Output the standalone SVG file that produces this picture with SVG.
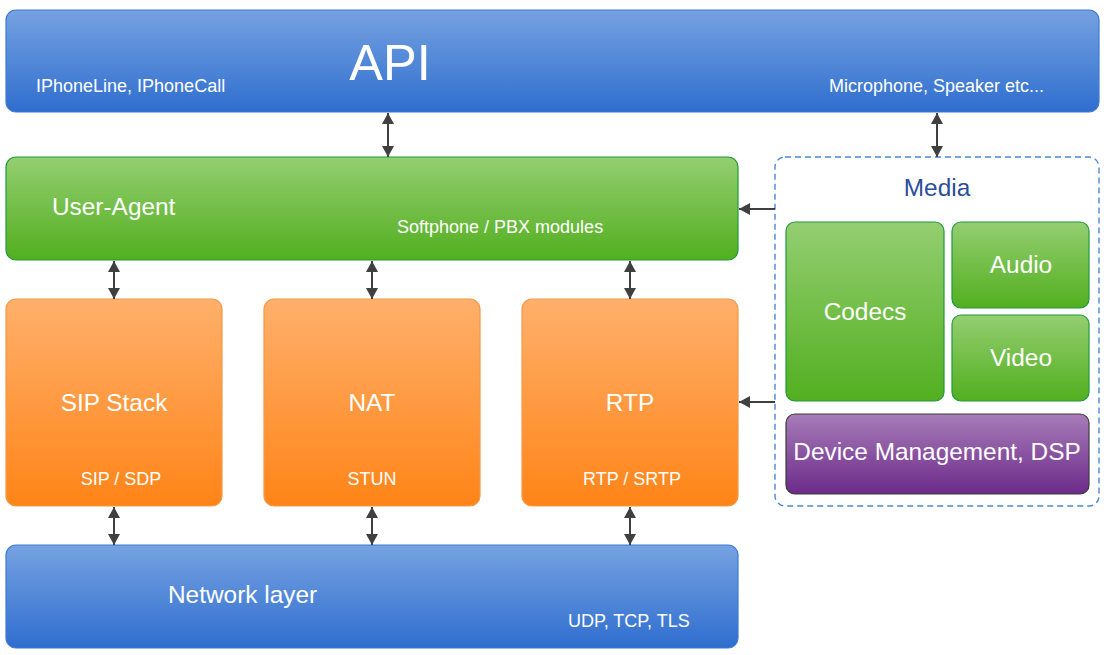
<svg xmlns="http://www.w3.org/2000/svg" width="1110" height="655" viewBox="0 0 1110 655">
<defs>
<linearGradient id="gBlue" x1="0" y1="0" x2="0" y2="1"><stop offset="0" stop-color="#76a2e1"/><stop offset="1" stop-color="#2f6ecf"/></linearGradient>
<linearGradient id="gGreen" x1="0" y1="0" x2="0" y2="1"><stop offset="0" stop-color="#94ce71"/><stop offset="1" stop-color="#52af1f"/></linearGradient>
<linearGradient id="gOrange" x1="0" y1="0" x2="0" y2="1"><stop offset="0" stop-color="#ffb06c"/><stop offset="1" stop-color="#ff8417"/></linearGradient>
<linearGradient id="gPurple" x1="0" y1="0" x2="0" y2="1"><stop offset="0" stop-color="#a77cb8"/><stop offset="1" stop-color="#6c2a8a"/></linearGradient>
<marker id="ah" viewBox="0 0 11 12" refX="11" refY="6" markerWidth="11" markerHeight="12" markerUnits="userSpaceOnUse" orient="auto-start-reverse"><path d="M0,0 L11,6 L0,12 Z" fill="#404040"/></marker>
</defs>
<style>
text{font-family:"Liberation Sans",Arial,sans-serif;fill:#fff}
.blue{fill:url(#gBlue);stroke:#3b7bd4;stroke-width:1.2}
.green{fill:url(#gGreen);stroke:#1e9a3c;stroke-width:1.2}
.orange{fill:url(#gOrange);stroke:#f2994a;stroke-width:1.2}
.purple{fill:url(#gPurple);stroke:#3a3a3a;stroke-width:1.2}
.big{font-size:24.4px}
.small{font-size:18px}
.conn{stroke:#404040;stroke-width:2;fill:none;marker-start:url(#ah);marker-end:url(#ah)}
.one{stroke:#404040;stroke-width:2;fill:none;marker-end:url(#ah)}
</style>
<g id="api">
<rect class="blue" x="6" y="10" width="1093" height="102" rx="10"/>
<text x="390" y="80" font-size="50.5" text-anchor="middle">API</text>
<text class="small" x="36" y="92">IPhoneLine, IPhoneCall</text>
<text class="small" x="829" y="92">Microphone, Speaker etc...</text>
</g>
<g id="user-agent">
<rect class="green" x="6" y="157" width="732" height="103" rx="10"/>
<text class="big" x="52" y="215">User-Agent</text>
<text class="small" x="397" y="233">Softphone / PBX modules</text>
</g>
<g id="sip-stack">
<rect class="orange" x="6" y="299" width="216" height="207" rx="10"/>
<text class="big" x="114" y="411" text-anchor="middle">SIP Stack</text>
<text class="small" x="121" y="485" text-anchor="middle">SIP / SDP</text>
</g>
<g id="nat">
<rect class="orange" x="264" y="299" width="216" height="207" rx="10"/>
<text class="big" x="372" y="411" text-anchor="middle">NAT</text>
<text class="small" x="372" y="485" text-anchor="middle">STUN</text>
</g>
<g id="rtp">
<rect class="orange" x="522" y="299" width="216" height="207" rx="10"/>
<text class="big" x="630" y="411" text-anchor="middle">RTP</text>
<text class="small" x="632" y="485" text-anchor="middle">RTP / SRTP</text>
</g>
<g id="network">
<rect class="blue" x="6" y="545" width="732" height="103" rx="10"/>
<text class="big" x="168" y="603">Network layer</text>
<text class="small" x="568" y="627">UDP, TCP, TLS</text>
</g>
<g id="media">
<rect x="775" y="157" width="324" height="349" rx="10" fill="#fff" stroke="#4a86d8" stroke-width="1.4" stroke-dasharray="6,4"/>
<text class="big" x="937" y="196" text-anchor="middle" style="fill:#2b4d9c">Media</text>
</g>
<g id="codecs">
<rect class="green" x="786" y="222" width="158" height="179" rx="9"/>
<text class="big" x="865" y="320" text-anchor="middle">Codecs</text>
</g>
<g id="audio">
<rect class="green" x="952" y="222" width="137" height="86" rx="9"/>
<text class="big" x="1021" y="273" text-anchor="middle">Audio</text>
</g>
<g id="video">
<rect class="green" x="952" y="315" width="137" height="86" rx="9"/>
<text class="big" x="1021" y="366" text-anchor="middle">Video</text>
</g>
<g id="device">
<rect class="purple" x="786" y="414" width="303" height="80" rx="9"/>
<text class="big" x="937" y="460" text-anchor="middle">Device Management, DSP</text>
</g>
<g id="connectors">
<line class="conn" x1="388" y1="113" x2="388" y2="157"/>
<line class="conn" x1="937" y1="113" x2="937" y2="157"/>
<line class="conn" x1="114" y1="261" x2="114" y2="299"/>
<line class="conn" x1="372" y1="261" x2="372" y2="299"/>
<line class="conn" x1="630" y1="261" x2="630" y2="299"/>
<line class="conn" x1="114" y1="507" x2="114" y2="545"/>
<line class="conn" x1="372" y1="507" x2="372" y2="545"/>
<line class="conn" x1="630" y1="507" x2="630" y2="545"/>
<line class="one" x1="775" y1="209" x2="739" y2="209"/>
<line class="one" x1="775" y1="402" x2="739" y2="402"/>
</g>
</svg>
